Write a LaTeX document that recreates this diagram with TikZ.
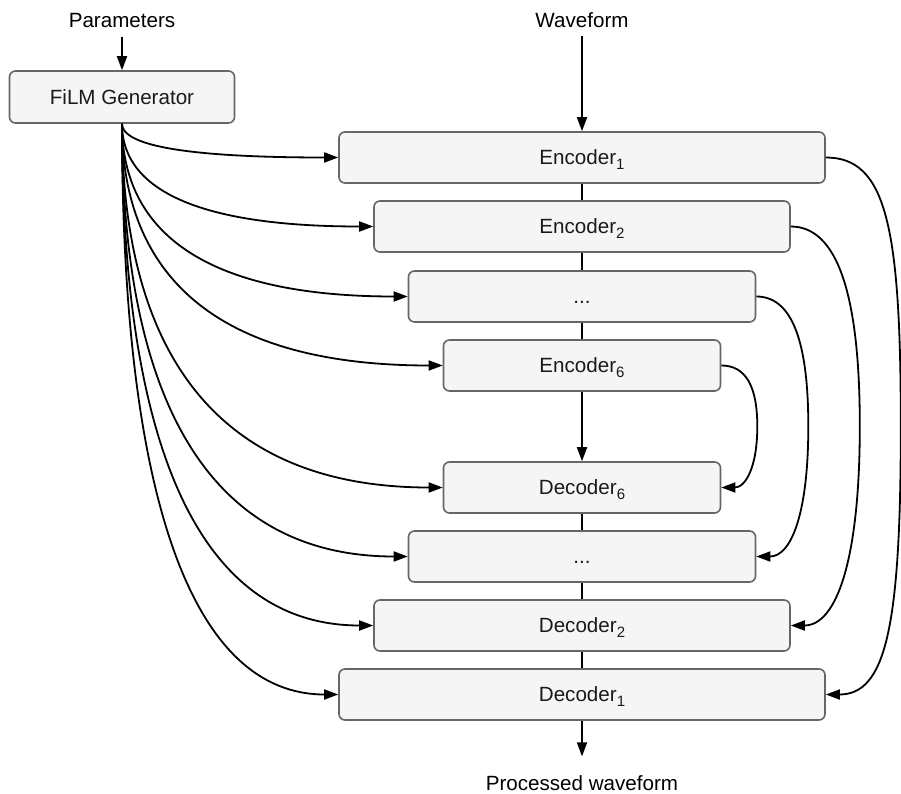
\documentclass[tikz,border=0pt]{standalone}
\usepackage{fontspec}
\setmainfont{Liberation Sans}
\usetikzlibrary{arrows.meta,calc}
\definecolor{boxfill}{HTML}{F5F5F5}
\definecolor{boxline}{HTML}{666666}
\definecolor{boxtext}{HTML}{1A1A1A}
% lowered index in the label font
\newcommand{\idx}[1]{\raisebox{-5pt}{\fontsize{15}{17}\selectfont #1}}

\begin{document}
\begin{tikzpicture}[x=1pt,y=-1pt,
  txt/.style={font=\fontsize{20.6}{24}\selectfont, inner sep=0pt, text height=14.8pt, text depth=0pt},
  block/.style={txt, draw=boxline, fill=boxfill, line width=1.6pt, rounded corners=6pt,
                text=boxtext, minimum height=51pt},
  wire/.style={line width=1.8pt},
  link/.style={wire, -{Triangle[length=14pt,width=10pt]}}]

\useasboundingbox (0,0) rectangle (901,794);

% input / output labels
\node[txt] (params) at (122,20) {Parameters};
\node[txt] (wave)   at (582,20) {Waveform};
\node[txt] (out)    at (582,783) {Processed waveform};

% FiLM generator
\node[block, minimum width=225pt, minimum height=52pt] (film) at (122,97) {FiLM Generator};

% encoder stack
\node[block, minimum width=486pt] (e1) at (582,157.5) {Encoder\idx{1}};
\node[block, minimum width=416pt] (e2) at (582,226.5) {Encoder\idx{2}};
\node[block, minimum width=347pt] (ed) at (582,296.5) {...};
\node[block, minimum width=277pt] (e6) at (582,365.5) {Encoder\idx{6}};

% decoder stack
\node[block, minimum width=277pt] (d6) at (582,487.5) {Decoder\idx{6}};
\node[block, minimum width=347pt] (dd) at (582,556.5) {...};
\node[block, minimum width=416pt] (d2) at (582,625.5) {Decoder\idx{2}};
\node[block, minimum width=486pt] (d1) at (582,694.5) {Decoder\idx{1}};

% main signal path
\draw[link, shorten <=9pt] (params) -- (film);
\draw[link, shorten <=8pt] (wave) -- (e1);
\draw[wire] (e1) -- (e2);
\draw[wire] (e2) -- (ed);
\draw[wire] (ed) -- (e6);
\draw[link] (e6) -- (d6);
\draw[wire] (d6) -- (dd);
\draw[wire] (dd) -- (d2);
\draw[wire] (d2) -- (d1);
\draw[link, shorten >=19pt] (d1) -- (out);

% FiLM conditioning to every block
\draw[link] (film.south) .. controls +(0,23)  and +(-144,0) .. (e1.west);
\draw[link] (film.south) .. controls +(0,69)  and +(-168,0) .. (e2.west);
\draw[link] (film.south) .. controls +(0,116) and +(-191,0) .. (ed.west);
\draw[link] (film.south) .. controls +(0,162) and +(-214,0) .. (e6.west);
\draw[link] (film.south) .. controls +(0,243) and +(-214,0) .. (d6.west);
\draw[link] (film.south) .. controls +(0,289) and +(-191,0) .. (dd.west);
\draw[link] (film.south) .. controls +(0,335) and +(-168,0) .. (d2.west);
\draw[link] (film.south) .. controls +(0,381) and +(-144,0) .. (d1.west);

% skip connections encoder -> decoder
\draw[link] (e1.east) .. controls +(60,0) and +(0,-201) .. ($(e1.east)!.5!(d1.east)+(75,0)$)
                      .. controls +(0,201) and +(60,0) .. (d1.east);
\draw[link] (e2.east) .. controls +(46,0) and +(0,-133) .. ($(e2.east)!.5!(d2.east)+(69,0)$)
                      .. controls +(0,133) and +(46,0) .. (d2.east);
\draw[link] (ed.east) .. controls +(35,0) and +(0,-87) .. ($(ed.east)!.5!(dd.east)+(52,0)$)
                      .. controls +(0,87) and +(35,0) .. (dd.east);
\draw[link] (e6.east) .. controls +(24,0) and +(0,-41) .. ($(e6.east)!.5!(d6.east)+(36,0)$)
                      .. controls +(0,41) and +(24,0) .. (d6.east);
\end{tikzpicture}
\end{document}
